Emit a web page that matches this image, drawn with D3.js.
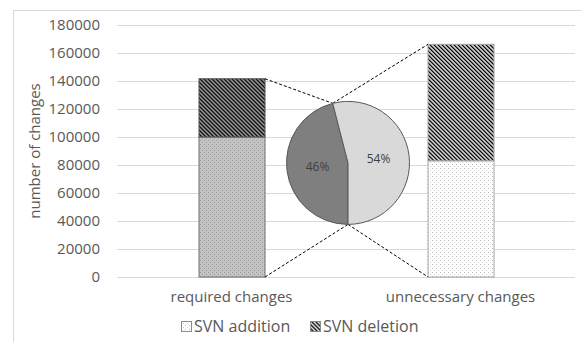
<!DOCTYPE html>
<html>
<head>
<meta charset="utf-8">
<script src="https://cdn.jsdelivr.net/npm/d3@7"></script>
<style>
  html, body { margin: 0; padding: 0; background: #fff; }
  svg { display: block; font-family: "Open Sans", sans-serif; }
</style>
</head>
<body>
<svg id="chart" width="581" height="342"></svg>
<script>
// Chart data
const categories = ["required changes", "unnecessary changes"];
const additions = [100000, 83000];
const deletions = [41600, 83200];
const yTicks = [0, 20000, 40000, 60000, 80000, 100000, 120000, 140000, 160000, 180000];
const seriesNames = ["SVN addition", "SVN deletion"];
const yTitle = "number of changes";

const svg = d3.select("#chart");
const W = 581, H = 342;
const plot = { left: 117, right: 575, top: 25, bottom: 277 };
const textColor = "#595959";

// Chart area border
svg.append("rect")
  .attr("x", 13.5).attr("y", 10.5)
  .attr("width", W).attr("height", H)
  .attr("fill", "none").attr("stroke", "#d9d9d9");

// Fill patterns
const defs = svg.append("defs");

function stripes(id, bg) {
  const p = defs.append("pattern")
    .attr("id", id).attr("patternUnits", "userSpaceOnUse")
    .attr("width", 2.83).attr("height", 10)
    .attr("patternTransform", "rotate(-45)");
  p.append("rect").attr("width", 2.83).attr("height", 10).attr("fill", bg);
  p.append("rect").attr("width", 1.42).attr("height", 10).attr("fill", "#000");
}
stripes("delReq", "#b0b0b0");
stripes("delUnn", "#ffffff");

// dense dots on grey
(function () {
  const p = defs.append("pattern")
    .attr("id", "addReq").attr("patternUnits", "userSpaceOnUse")
    .attr("width", 4).attr("height", 4);
  p.append("rect").attr("width", 4).attr("height", 4).attr("fill", "#c3c3c3");
  p.append("rect").attr("x", 0).attr("y", 0).attr("width", 1).attr("height", 1).attr("fill", "#9a9a9a");
  p.append("rect").attr("x", 2).attr("y", 2).attr("width", 1).attr("height", 1).attr("fill", "#9a9a9a");
})();

// sparse dots on white
(function () {
  const p = defs.append("pattern")
    .attr("id", "addUnn").attr("patternUnits", "userSpaceOnUse")
    .attr("width", 4).attr("height", 4);
  p.append("rect").attr("width", 4).attr("height", 4).attr("fill", "#ffffff");
  p.append("rect").attr("x", 0).attr("y", 0).attr("width", 1).attr("height", 1).attr("fill", "#b4b4b4");
  p.append("rect").attr("x", 2).attr("y", 2).attr("width", 1).attr("height", 1).attr("fill", "#d0d0d0");
})();

const addFills = ["url(#addReq)", "url(#addUnn)"];
const delFills = ["url(#delReq)", "url(#delUnn)"];

// Scales
const x = d3.scaleBand().domain(categories).range([plot.left, plot.right]);
const y = d3.scaleLinear().domain([0, 180000]).range([plot.bottom, plot.top]);
const barW = 66;

// Gridlines + y axis labels
const yAxis = d3.axisLeft(y).tickValues(yTicks).tickFormat(d3.format("d"))
  .tickSize(-(plot.right - plot.left)).tickPadding(17);
const gy = svg.append("g").attr("transform", `translate(${plot.left},0)`).call(yAxis);
gy.select(".domain").remove();
gy.selectAll(".tick line").attr("stroke", "#d9d9d9").attr("stroke-width", 1);
gy.selectAll(".tick text").attr("fill", textColor).attr("font-size", 15)
  .attr("font-family", "Open Sans, sans-serif");

// Category axis labels
const gx = svg.append("g").attr("transform", `translate(0,${plot.bottom})`)
  .call(d3.axisBottom(x).tickSize(0).tickPadding(14));
gx.select(".domain").remove();
gx.selectAll(".tick text").attr("fill", textColor).attr("font-size", 15)
  .attr("font-family", "Open Sans, sans-serif");

// Y axis title
svg.append("text")
  .attr("transform", `translate(40,151) rotate(-90)`)
  .attr("text-anchor", "middle")
  .attr("fill", textColor).attr("font-size", 15)
  .text(yTitle);

// Stacked bars
const barX = i => x(categories[i]) + x.bandwidth() / 2 - barW / 2;
const bars = svg.append("g");
categories.forEach((c, i) => {
  bars.append("rect")
    .attr("x", barX(i) + 0.5).attr("y", y(additions[i]))
    .attr("width", barW).attr("height", y(0) - y(additions[i]))
    .attr("fill", addFills[i]).attr("stroke", i === 0 ? "#707070" : "#a6a6a6").attr("stroke-width", 1);
  bars.append("rect")
    .attr("x", barX(i) + 0.5).attr("y", y(additions[i] + deletions[i]))
    .attr("width", barW).attr("height", y(additions[i]) - y(additions[i] + deletions[i]))
    .attr("fill", delFills[i]).attr("stroke", i === 0 ? "#505050" : "#a6a6a6").attr("stroke-width", 1);
});

// Share of each category in all changes
const totals = categories.map((c, i) => additions[i] + deletions[i]);
const pieR = 61.5;
const pieCx = (barX(0) + barW + barX(1)) / 2 + 2;
const pieCy = y(81500);

const pie = d3.pie().sort(null).startAngle(Math.PI).endAngle(3 * Math.PI);
const arcs = pie(totals);
const arc = d3.arc().innerRadius(0).outerRadius(pieR);
const pieFills = ["#7f7f7f", "#d9d9d9"];

// Dashed connector lines from bars to the pie
const pt = a => [pieCx + pieR * Math.sin(a), pieCy - pieR * Math.cos(a)];
const topPt = pt(arcs[0].endAngle);
const botPt = pt(arcs[0].startAngle);
const lines = [
  [[barX(0) + barW + 0.5, y(totals[0])], topPt],
  [topPt, [barX(1) + 0.5, y(totals[1])]],
  [[barX(0) + barW + 0.5, y(0)], botPt],
  [botPt, [barX(1) + 0.5, y(0)]]
];
svg.append("g").selectAll("line").data(lines).join("line")
  .attr("x1", d => d[0][0]).attr("y1", d => d[0][1])
  .attr("x2", d => d[1][0]).attr("y2", d => d[1][1])
  .attr("stroke", "#000").attr("stroke-width", 1).attr("stroke-dasharray", "3,2");

const gp = svg.append("g").attr("transform", `translate(${pieCx},${pieCy})`);
gp.selectAll("path").data(arcs).join("path")
  .attr("d", arc)
  .attr("fill", (d, i) => pieFills[i])
  .attr("stroke", "#595959").attr("stroke-width", 1);

const pct = d3.format(".0%");
const grand = d3.sum(totals);
gp.selectAll("text").data(arcs).join("text")
  .attr("transform", d => `translate(${arc.centroid(d)})`)
  .attr("text-anchor", "middle").attr("dy", "0.35em")
  .attr("fill", "#404040").attr("font-size", 12)
  .text(d => pct(d.value / grand));

// Legend
const legend = svg.append("g").attr("transform", "translate(181,321)");
const legX = [0, 129];
seriesNames.forEach((name, i) => {
  const g = legend.append("g").attr("transform", `translate(${legX[i]},0)`);
  g.append("rect").attr("x", 0.5).attr("y", 0.5).attr("width", 10).attr("height", 10)
    .attr("fill", i === 0 ? "url(#addUnn)" : "url(#delUnn)")
    .attr("stroke", "#8c8c8c").attr("stroke-width", 1);
  g.append("text").attr("x", 13).attr("y", 5.5).attr("dy", "0.35em")
    .attr("fill", textColor).attr("font-size", 16).text(name);
});
</script>
</body>
</html>
